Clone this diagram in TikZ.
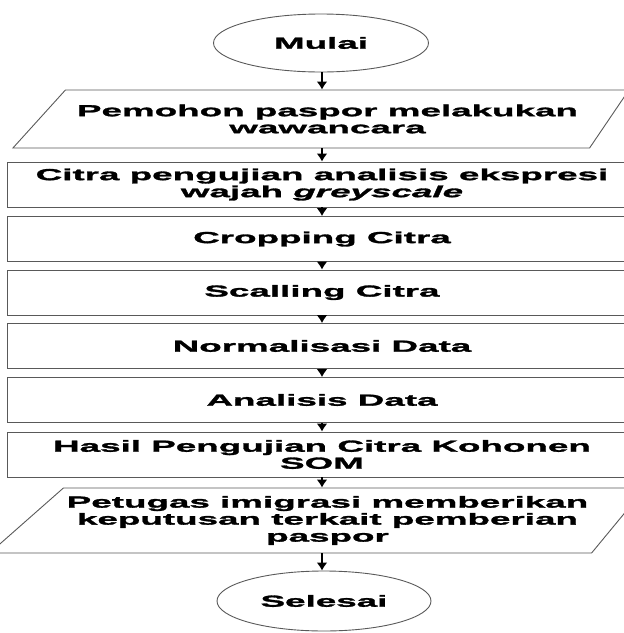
\documentclass[tikz,border=0pt]{standalone}
\usepackage{fontspec}
\setmainfont{Liberation Sans}[FakeStretch=2.3,BoldFeatures={FakeBold=1.8},BoldItalicFeatures={FakeBold=1.8}]
\usetikzlibrary{positioning,shapes.geometric,arrows.meta}

\begin{document}
\begin{tikzpicture}[x=1pt,y=-1pt,->,>={Latex[length=8pt,width=11pt]},line width=1.6pt]
  \tikzstyle{terminal}=[ellipse, draw=black!65, line width=0.9pt, text=black,
font=\bfseries\fontsize{16}{17}\selectfont, minimum width=215pt, minimum height=58pt]
  \tikzstyle{process}=[rectangle, draw=black!65, line width=0.9pt, align=center,
font=\bfseries\fontsize{16}{17}\selectfont, minimum width=630pt, minimum height=45pt]
  \tikzstyle{io}=[trapezium, trapezium left angle=34, trapezium right angle=138,
trapezium stretches body, draw=black!65, line width=0.9pt, align=center,
font=\bfseries\fontsize{16}{17}\selectfont, minimum width=616pt, minimum height=58pt]
  \useasboundingbox (0,0) rectangle (624,633);

  \node[terminal] (L_1) at (321,43) {Mulai};
  \node[io] (L_2) at (327.5,119) {Pemohon paspor melakukan\\ wawancara};
  \node[process] (L_3) at (322,184.5) {Citra pengujian analisis ekspresi\\ wajah \textit{greyscale}};
  \node[process] (L_4) at (322,239) {Cropping Citra};
  \node[process] (L_5) at (322,292.5) {Scalling Citra};
  \node[process] (L_6) at (322,346) {Normalisasi Data};
  \node[process] (L_7) at (322,400) {Analisis Data};
  \node[process] (L_8) at (322,454.5) {Hasil Pengujian Citra Kohonen\\ SOM};
  \node[io, trapezium left angle=37, trapezium right angle=134, minimum height=65pt]
    (L_9) at (327.5,520.5) {Petugas imigrasi memberikan\\ keputusan terkait pemberian\\ paspor};
  \node[terminal, minimum width=214pt, minimum height=60pt] (L_10) at (324,601) {Selesai};

  \draw (L_1.south -| L_3) -- (L_3 |- L_2.north);
  \draw (L_2.south -| L_3) -- (L_3);
  \draw (L_3) -- (L_4);
  \draw (L_4) -- (L_5);
  \draw (L_5) -- (L_6);
  \draw (L_6) -- (L_7);
  \draw (L_7) -- (L_8);
  \draw (L_8) -- (L_8 |- L_9.north);
  \draw (L_9.south -| L_8) -- (L_8 |- L_10.north);
\end{tikzpicture}
\end{document}
